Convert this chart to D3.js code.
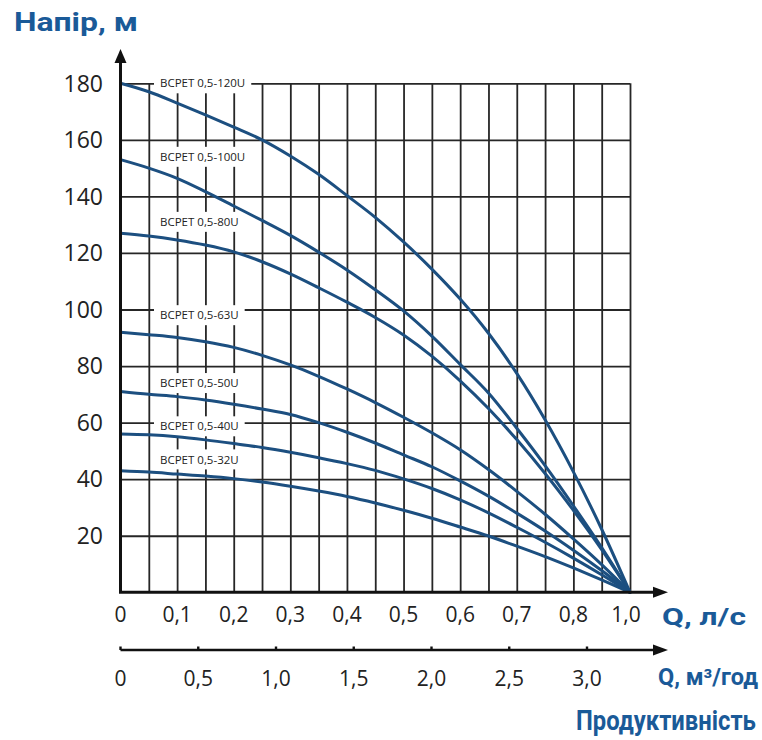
<!DOCTYPE html>
<html>
<head>
<meta charset="utf-8">
<script src="https://cdn.jsdelivr.net/npm/d3@7"></script>
<style>
  body { margin: 0; background: #fff; }
  text { font-family: "Open Sans", sans-serif; }
  text.ttl { font-family: Roboto, "Open Sans", sans-serif; font-weight: bold; }
</style>
</head>
<body>
<svg id="chart" width="762" height="740"></svg>
<script>
// flow, l/s
const flowLs = [0, 0.05, 0.1, 0.15, 0.2, 0.25, 0.3, 0.35, 0.4, 0.45, 0.5, 0.55, 0.6, 0.65, 0.7, 0.75, 0.8, 0.85, 0.9];

// head, m (one array per pump)
const head120 = [180, 177, 173, 168.8, 164.5, 160, 154.3, 147.8, 140.3, 132.6, 123.9, 114.3, 103.7, 91.6, 77.4, 61, 42.6, 22.3, 0];
const head100 = [153, 150, 146.4, 141.7, 136.6, 131.5, 126.2, 120.3, 114, 107, 99.5, 90.6, 80.6, 70.5, 58, 44.8, 30.6, 15.8, 0];
const head80 = [127, 126, 124.6, 122.8, 120.4, 116.9, 112.6, 107.7, 102.6, 97.2, 91, 83.5, 74.8, 65, 54, 42, 29, 15.1, 0];
const head63 = [92, 91.1, 90.1, 88.6, 86.6, 83.8, 80.4, 76.4, 71.9, 67.1, 61.9, 56.4, 50.4, 43.4, 35.7, 27.6, 18.9, 9.8, 0];
const head50 = [71, 70, 69.2, 68, 66.5, 64.8, 62.9, 60, 56.6, 52.8, 48.6, 44.4, 39.4, 34, 28, 21.7, 14.9, 7.7, 0];
const head40 = [56, 55.7, 55, 53.9, 52.6, 51.2, 49.5, 47.6, 45.5, 43.1, 40.1, 36.7, 32.7, 28.1, 23, 17.7, 12.1, 6.2, 0];
const head32 = [43, 42.5, 41.8, 41.1, 40.2, 39, 37.5, 35.8, 33.9, 31.6, 29, 26.2, 23.1, 19.9, 16.3, 12.6, 8.6, 4.4, 0];

const models = ["BCPET 0,5-120U", "BCPET 0,5-100U", "BCPET 0,5-80U", "BCPET 0,5-63U",
                "BCPET 0,5-50U", "BCPET 0,5-40U", "BCPET 0,5-32U"];
const heads = [head120, head100, head80, head63, head50, head40, head32];
// head value (m) where each model name sits
const labelAt = [180, 154, 131, 98, 74, 58.7, 47];

const headTicks = [20, 40, 60, 80, 100, 120, 140, 160, 180];
const lsTicks = [0, 0.1, 0.2, 0.3, 0.4, 0.5, 0.6, 0.7, 0.8, 0.9];
const lsLabels = ["0", "0,1", "0,2", "0,3", "0,4", "0,5", "0,6", "0,7", "0,8", "1,0"];
const m3Ticks = [0, 0.5, 1, 1.5, 2, 2.5, 3];
const m3Labels = ["0", "0,5", "1,0", "1,5", "2,0", "2,5", "3,0"];

const blue = "#1a5a98";
const curveCol = "#1c4f80";
const x0 = 120.5, x1 = 630, y0 = 592.3, yTop = 83.3;

const svg = d3.select("#chart");

const x = d3.scaleLinear().domain([0, 0.9]).range([x0, x1]);
const y = d3.scaleLinear().domain([0, 180]).range([y0, yTop]);
const xm3 = d3.scaleLinear().domain([0, 3]).range([x0, 587]);

// grid
const gridQ = d3.range(1, 19).map(i => i * 0.05);
svg.append("g")
    .attr("transform", `translate(0,${y0})`)
    .call(d3.axisBottom(x).tickValues(gridQ).tickSize(-(y0 - yTop)).tickFormat(""))
    .call(g => g.select(".domain").remove())
    .selectAll("line").attr("stroke", "#262626").attr("stroke-width", 1.8);

svg.append("g")
    .attr("transform", `translate(${x0},0)`)
    .call(d3.axisLeft(y).tickValues(headTicks).tickSize(-(x1 - x0)).tickFormat(""))
    .call(g => g.select(".domain").remove())
    .selectAll("line").attr("stroke", "#262626").attr("stroke-width", 1.8);

// model labels with white boxes
const labG = svg.append("g");
models.forEach((m, i) => {
    const g = labG.append("g");
    const t = g.append("text")
        .attr("x", 160)
        .attr("y", y(labelAt[i]))
        .attr("dy", "0.36em")
        .attr("font-size", 11.5)
        .attr("fill", "#222")
        .text(m);
    const b = t.node().getBBox();
    g.insert("rect", "text")
        .attr("x", b.x - 6)
        .attr("y", y(labelAt[i]) - 10)
        .attr("width", b.width + 12)
        .attr("height", 20)
        .attr("fill", "#fff");
});

// curves
const line = d3.line()
    .x((d, i) => x(flowLs[i]))
    .y(d => y(d))
    .curve(d3.curveMonotoneX);

svg.append("g").selectAll("path")
    .data(heads)
    .join("path")
    .attr("d", line)
    .attr("fill", "none")
    .attr("stroke", curveCol)
    .attr("stroke-width", 3)
    .attr("stroke-linecap", "round");

// axes
const axisCol = "#111";
svg.append("line").attr("x1", x0).attr("x2", x0).attr("y1", y0).attr("y2", 60)
    .attr("stroke", axisCol).attr("stroke-width", 3);
svg.append("path").attr("d", `M${x0},49 L${x0 - 6},63 L${x0 + 6},63 Z`).attr("fill", axisCol);

svg.append("line").attr("x1", x0 - 1.5).attr("x2", 656).attr("y1", y0).attr("y2", y0)
    .attr("stroke", axisCol).attr("stroke-width", 3);
svg.append("path").attr("d", `M668,${y0} L653,${y0 - 5.5} L653,${y0 + 5.5} Z`).attr("fill", axisCol);

const yM3 = 650;
svg.append("line").attr("x1", x0).attr("x2", 656).attr("y1", yM3).attr("y2", yM3)
    .attr("stroke", axisCol).attr("stroke-width", 2.6);
svg.append("path").attr("d", `M668,${yM3} L653,${yM3 - 5.5} L653,${yM3 + 5.5} Z`).attr("fill", axisCol);
svg.append("g").selectAll("line")
    .data(m3Ticks)
    .join("line")
    .attr("x1", d => xm3(d)).attr("x2", d => xm3(d))
    .attr("y1", yM3 - 3.5).attr("y2", yM3)
    .attr("stroke", axisCol).attr("stroke-width", 2.4);

// tick labels
svg.append("g").selectAll("text")
    .data(headTicks)
    .join("text")
    .attr("x", 103)
    .attr("y", d => y(d))
    .attr("dy", "0.36em")
    .attr("text-anchor", "end")
    .attr("font-size", 23)
    .attr("fill", "#222")
    .text(d => d);

svg.append("g").selectAll("text")
    .data(lsTicks)
    .join("text")
    .attr("x", (d, i) => x(d) + (i === lsTicks.length - 1 ? -4 : 0))
    .attr("y", 622)
    .attr("text-anchor", "middle")
    .attr("font-size", 21)
    .attr("fill", "#222")
    .text((d, i) => lsLabels[i]);

svg.append("g").selectAll("text")
    .data(m3Ticks)
    .join("text")
    .attr("x", d => xm3(d))
    .attr("y", 686)
    .attr("text-anchor", "middle")
    .attr("font-size", 21)
    .attr("fill", "#222")
    .text((d, i) => m3Labels[i]);

// titles: bold blue, stretched to the width seen in the picture
function title(txt, tx, ty, len, size) {
    const g = svg.append("g");
    const t = g.append("text")
        .attr("class", "ttl")
        .attr("font-size", size)
        .attr("fill", blue)
        .text(txt);
    const w = t.node().getComputedTextLength();
    g.attr("transform", `translate(${tx},${ty}) scale(${len / w},1)`);
}
title("Напір, м", 14, 31, 124, 25);
title("Q, л/с", 662, 625, 84, 23);
title("Q, м³/год", 658, 685, 100, 23);
title("Продуктивність", 576, 730, 180, 27);
</script>
</body>
</html>
